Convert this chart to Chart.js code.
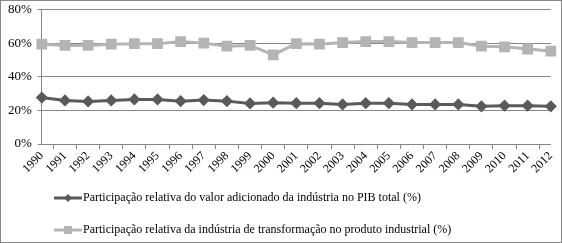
<!DOCTYPE html>
<html>
<head>
<meta charset="utf-8">
<script src="https://cdn.jsdelivr.net/npm/chart.js@4/dist/chart.umd.min.js"></script>
<style>
html,body{margin:0;padding:0;background:#fff;}
#wrap{width:562px;height:243px;box-sizing:border-box;border:1px solid #878787;position:relative;}
canvas{display:block;}
</style>
</head>
<body>
<div id="wrap"><canvas id="c" width="560" height="241"></canvas></div>
<script>
const years = ["1990","1991","1992","1993","1994","1995","1996","1997","1998","1999","2000","2001","2002","2003","2004","2005","2006","2007","2008","2009","2010","2011","2012"];
const industryShareGDP = [27.6,25.9,25.3,25.9,26.5,26.5,25.5,26.1,25.5,24.1,24.6,24.3,24.3,23.5,24.3,24.3,23.5,23.5,23.5,22.4,22.8,22.8,22.4];
const manufacturingShare = [59.4,58.6,58.6,59.4,59.7,59.7,60.9,60.0,58.2,58.6,53.0,59.7,59.4,60.3,60.9,60.9,60.3,60.3,60.3,58.2,57.8,56.5,55.3];
const seriesNames = ["Participação relativa do valor adicionado da indústria no PIB total (%)","Participação relativa da indústria de transformação no produto industrial (%)"];
const yTicks = [0,20,40,60,80];

const darkCol = '#5a5a5a';
const lightCol = '#b4b4b4';
const FONT = "'Liberation Serif', 'Times New Roman', serif";

function legendIcon(color, shape){
  const cv = document.createElement('canvas');
  cv.width = 28; cv.height = 10;
  const g = cv.getContext('2d');
  g.strokeStyle = color; g.lineWidth = 3;
  g.beginPath(); g.moveTo(0,5); g.lineTo(28,5); g.stroke();
  g.fillStyle = color;
  g.beginPath();
  if(shape==='diamond'){ g.moveTo(14,1); g.lineTo(18,5); g.lineTo(14,9); g.lineTo(10,5); g.closePath(); }
  else { g.rect(10,1,8,8); }
  g.fill();
  return cv;
}
const icons = [legendIcon(darkCol,'diamond'), legendIcon(lightCol,'square')];

const legendPlace = {
  id: 'legendPlace',
  afterLayout(chart){
    const lg = chart.legend;
    if (lg) {
      const w = lg.right - lg.left; lg.left = 38; lg.right = 38 + w;
      lg.top -= 1; lg.bottom -= 1;
    }
  }
};

new Chart(document.getElementById('c'), {
  type: 'line',
  data: {
    labels: years,
    datasets: [
      {label: seriesNames[0], data: industryShareGDP, borderColor: darkCol, backgroundColor: darkCol, borderWidth: 3, pointStyle: 'rectRot', pointRadius: 4, pointHoverRadius: 4, tension: 0},
      {label: seriesNames[1], data: manufacturingShare, borderColor: lightCol, backgroundColor: lightCol, borderWidth: 3, pointStyle: 'rect', pointRadius: 5.5, pointHoverRadius: 5.5, tension: 0}
    ]
  },
  plugins: [legendPlace],
  options: {
    responsive: false,
    animation: false,
    layout: {padding: {top: 0, right: 3, left: 1, bottom: -5}},
    scales: {
      x: {
        grid: {display: true, drawOnChartArea: false, drawTicks: true, tickLength: 5, color: '#868686', offset: true},
        border: {display: true, color: '#868686'},
        ticks: {minRotation: 45, maxRotation: 45, color: '#000', font: {family: FONT, size: 12}, padding: 0, autoSkip: false},
        afterFit: (scale) => { scale.height = 29; }
      },
      y: {
        min: 0, max: 80,
        afterBuildTicks: (axis) => { axis.ticks = yTicks.map(v => ({value: v})); },
        grid: {color: '#868686', drawTicks: true, tickLength: 4},
        border: {display: true, color: '#868686'},
        ticks: {color: '#000', font: {family: FONT, size: 13}, padding: 6, callback: v => v + '%'},
        afterFit: (scale) => { scale.paddingTop = 6; scale.paddingBottom = 6; }
      }
    },
    plugins: {
      tooltip: {enabled: false},
      legend: {
        position: 'bottom',
        align: 'start',
        fullSize: false,
        labels: {
          color: '#000',
          font: {family: FONT, size: 12},
          usePointStyle: true,
          pointStyleWidth: 18,
          boxHeight: 10,
          padding: 20,
          generateLabels: (chart) => chart.data.datasets.map((ds, i) => ({
            text: ds.label, pointStyle: icons[i], fillStyle: ds.borderColor, strokeStyle: ds.borderColor, lineWidth: 0, datasetIndex: i, fontColor: '#000'
          }))
        }
      }
    }
  }
});
</script>
</body>
</html>
